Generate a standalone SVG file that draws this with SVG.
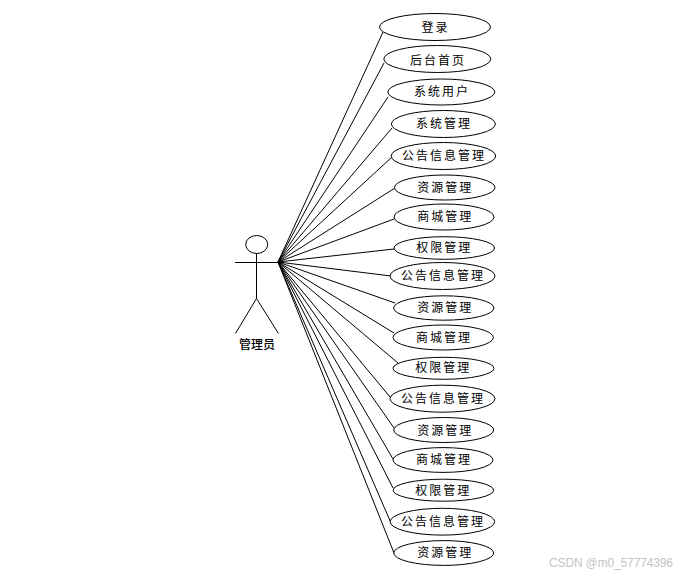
<svg xmlns="http://www.w3.org/2000/svg" width="690" height="576" viewBox="0 0 690 576">
<style>
.bg{fill:#fff}
.s{fill:none;stroke:#000;stroke-width:1}
.e{fill:#fff;stroke:#000;stroke-width:1}
.t{font-family:"Noto Sans CJK SC","Liberation Sans",sans-serif;font-size:12px;letter-spacing:2px;fill:#000}
.a{font-family:"Noto Sans CJK SC","Liberation Sans",sans-serif;font-size:12px;font-weight:500;fill:#000;text-anchor:middle}
.w{font-family:"Liberation Sans",sans-serif;font-size:12px;fill:#c4c4c4}
</style>
<rect class="bg" width="690" height="576"/>
<g id="connectors">
<path class="s" d="M278 262L383 32M278 262L384 63M278 262L388 97M278 262L392 128M278 262L392 157M278 262L395 188M278 262L394 219M278 262L394 249M278 262L391 276M278 262L395 303M278 262L394 333M278 262L398 363M278 262L390 397M278 262L394 428M278 262L393 459M278 262L393 488M278 262L391 523M278 262L394 553"/>
</g>
<g id="actor">
<ellipse class="s" cx="256.7" cy="244.5" rx="11" ry="9"/>
<path class="s" d="M256.5 253.5V298.5M235 262.5H278M256.5 298.5L235.5 333.5M256.5 298.5L278.5 333.5"/>
<text class="a" x="257" y="349">管理员</text>
</g>
<g id="n1"><ellipse class="e" cx="435" cy="27" rx="55.5" ry="13.5"/><text class="t" x="421.5" y="32">登录</text></g>
<g id="n2"><ellipse class="e" cx="437.3" cy="59" rx="53.5" ry="13.5"/><text class="t" x="410" y="65">后台首页</text></g>
<g id="n3"><ellipse class="e" cx="441.3" cy="92" rx="53.5" ry="13"/><text class="t" x="414" y="96">系统用户</text></g>
<g id="n4"><ellipse class="e" cx="443.4" cy="124" rx="52" ry="13.5"/><text class="t" x="416" y="128">系统管理</text></g>
<g id="n5"><ellipse class="e" cx="443.4" cy="156" rx="52.3" ry="13.5"/><text class="t" x="402" y="160">公告信息管理</text></g>
<g id="n6"><ellipse class="e" cx="444.7" cy="187.5" rx="50.3" ry="12.5"/><text class="t" x="417.3" y="192">资源管理</text></g>
<g id="n7"><ellipse class="e" cx="444" cy="217" rx="50" ry="13"/><text class="t" x="417.3" y="221">商城管理</text></g>
<g id="n8"><ellipse class="e" cx="444.3" cy="248" rx="50.3" ry="11.3"/><text class="t" x="416.3" y="252">权限管理</text></g>
<g id="n9"><ellipse class="e" cx="442.5" cy="276" rx="52.5" ry="13.5"/><text class="t" x="401" y="280">公告信息管理</text></g>
<g id="n10"><ellipse class="e" cx="443.8" cy="308" rx="50.2" ry="12.2"/><text class="t" x="417.3" y="312">资源管理</text></g>
<g id="n11"><ellipse class="e" cx="443.2" cy="337.5" rx="50.2" ry="12.5"/><text class="t" x="416" y="342">商城管理</text></g>
<g id="n12"><ellipse class="e" cx="443.5" cy="368.3" rx="50.5" ry="11"/><text class="t" x="415.3" y="372">权限管理</text></g>
<g id="n13"><ellipse class="e" cx="442.5" cy="398.7" rx="52.5" ry="13.5"/><text class="t" x="401" y="403">公告信息管理</text></g>
<g id="n14"><ellipse class="e" cx="443.7" cy="430" rx="50" ry="12.5"/><text class="t" x="417.3" y="435">资源管理</text></g>
<g id="n15"><ellipse class="e" cx="443" cy="460" rx="50" ry="12.4"/><text class="t" x="416" y="464">商城管理</text></g>
<g id="n16"><ellipse class="e" cx="443.4" cy="490.2" rx="50.3" ry="11"/><text class="t" x="415.3" y="495">权限管理</text></g>
<g id="n17"><ellipse class="e" cx="442.4" cy="521.7" rx="52.3" ry="13.4"/><text class="t" x="401" y="526">公告信息管理</text></g>
<g id="n18"><ellipse class="e" cx="443.7" cy="553" rx="50" ry="12.4"/><text class="t" x="417.3" y="557">资源管理</text></g>
<text class="w" x="549" y="567" textLength="124">CSDN @m0_57774396</text>
</svg>
